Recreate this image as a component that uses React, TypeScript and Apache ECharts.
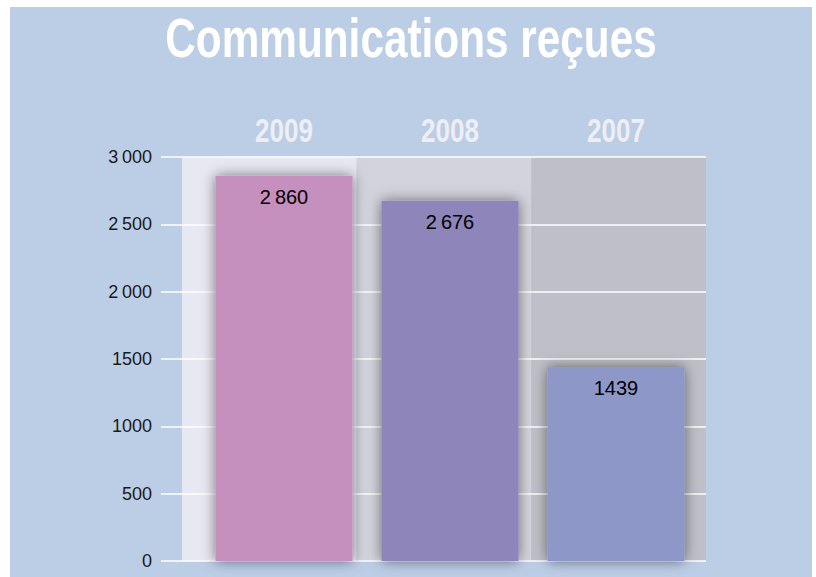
import React, { useEffect, useRef } from "react";
import * as echarts from "echarts";

const categories = ["2009", "2008", "2007"];
const values = [2860, 2676, 1439];
const valueLabels = ["2\u2009860", "2\u2009676", "1439"];
const barColors = ["#c590be", "#8e86bb", "#8d97c8"];
const columnColors = ["#e8e8f2", "#d3d3dd", "#bfbfc8"];
const yTicks = [0, 500, 1000, 1500, 2000, 2500, 3000];
const yTickLabels = ["0", "500", "1000", "1500", "2\u2009000", "2\u2009500", "3\u2009000"];
const title = "Communications reçues";

const boldFamily = "'Liberation Sans', Arial, sans-serif";

function measure(text: string, font: string): number {
  const c = document.createElement("canvas").getContext("2d");
  if (!c) return 1;
  c.font = font;
  return c.measureText(text).width || 1;
}

export default function App() {
  const ref = useRef<HTMLDivElement>(null);
  useEffect(() => {
    if (!ref.current) return;
    const chart = echarts.init(ref.current, undefined, { renderer: "svg" });
    chart.setOption({
      animation: false,
      backgroundColor: "#ffffff",
      grid: [
        { left: 182, right: 110, top: 157, bottom: 16, containLabel: false },
        { left: 201, right: 117, top: 157, bottom: 16, containLabel: false },
      ],
      xAxis: [
        {
          type: "category",
          gridIndex: 0,
          z: 0,
          data: categories,
          boundaryGap: true,
          axisLine: { show: false },
          axisTick: { show: false },
          axisLabel: { show: false },
          splitArea: { show: true, interval: 0, areaStyle: { color: columnColors } },
          splitLine: { show: false },
        },
        {
          type: "category",
          gridIndex: 1,
          position: "top",
          data: categories,
          axisLine: { show: false },
          axisTick: { show: false },
          axisLabel: { show: false },
          splitLine: { show: false },
        },
      ],
      yAxis: [
        {
          type: "value",
          gridIndex: 0,
          z: 1,
          min: 0,
          max: 3000,
          interval: 500,
          axisLine: { show: false },
          axisTick: { show: true, inside: false, length: 21, lineStyle: { color: "#ffffff", width: 1.5 } },
          axisLabel: {
            color: "#1a1a1a",
            fontSize: 18,
            fontFamily: "'Liberation Sans', Arial, sans-serif",
            margin: 30,
            formatter: (v: number) => {
              const i = yTicks.indexOf(v);
              return i >= 0 ? yTickLabels[i] : String(v);
            },
          },
          splitLine: { show: true, lineStyle: { color: "#ffffff", width: 1.5 } },
        },
        {
          type: "value",
          gridIndex: 1,
          min: 0,
          max: 3000,
          interval: 500,
          show: false,
          splitLine: { show: false },
        },
      ],
      series: [
        {
          type: "bar",
          xAxisIndex: 1,
          yAxisIndex: 1,
          z: 3,
          barWidth: 137,
          data: values.map((v, i) => ({
            value: v,
            itemStyle: {
              color: barColors[i],
              shadowBlur: 14,
              shadowColor: "rgba(0,0,0,0.5)",
              shadowOffsetX: 0,
              shadowOffsetY: 0,
            },
          })),
          label: {
            show: true,
            position: "insideTop",
            distance: 11,
            color: "#000000",
            fontSize: 20,
            fontFamily: "'Liberation Sans', Arial, sans-serif",
            formatter: (p: any) => valueLabels[p.dataIndex],
          },
        },
      ],
    });

    const titleFont = `bold 56px ${boldFamily}`;
    const titleScale = 492 / measure(title, titleFont);
    const catFont = `bold 34px ${boldFamily}`;
    const catScale = 58 / measure("2009", catFont);

    const catTexts = categories.map((c) => {
      const x = chart.convertToPixel({ xAxisIndex: 1 }, c) as unknown as number;
      return {
        type: "text",
        z: 10,
        x,
        y: 130,
        scaleX: catScale,
        style: {
          text: c,
          fill: "#eeeef5",
          font: catFont,
          align: "center",
          verticalAlign: "middle",
        },
      };
    });

    chart.setOption({
      graphic: [
        {
          type: "rect",
          z: -10,
          shape: { x: 10, y: 7, width: 802, height: 580 },
          style: { fill: "#bccde6" },
        },
        {
          type: "text",
          z: 10,
          x: 411,
          y: 38,
          scaleX: titleScale,
          style: {
            text: title,
            fill: "#ffffff",
            font: titleFont,
            align: "center",
            verticalAlign: "middle",
          },
        },
        ...catTexts,
      ],
    });
    return () => chart.dispose();
  }, []);
  return (
    <div
      ref={ref}
      style={{ position: "fixed", left: 0, top: 0, width: 816, height: 577 }}
    />
  );
}
